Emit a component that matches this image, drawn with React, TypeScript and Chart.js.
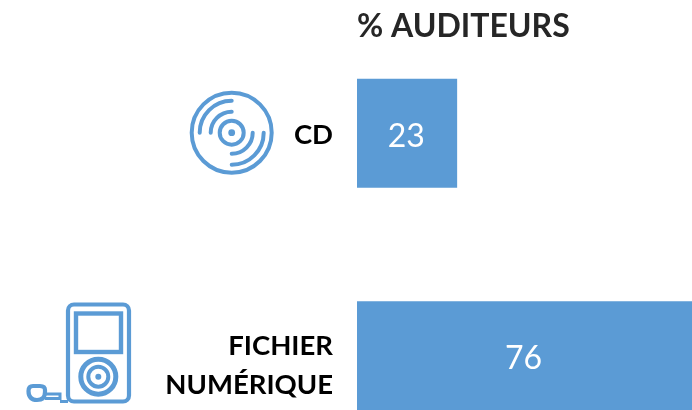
import React, { useEffect, useRef } from "react";
import { Chart, registerables } from "chart.js";

Chart.register(...registerables);

const categories = [["CD"], ["FICHIER", "NUMÉRIQUE"]];
const values = [23, 76];
const chartTitle = "% AUDITEURS";
const blue = "#5B9BD5";
const fontFamily = "Lato, 'Open Sans', sans-serif";

const valueLabels = {
  id: "valueLabels",
  afterDatasetsDraw(chart: any) {
    const { ctx } = chart;
    const meta = chart.getDatasetMeta(0);
    ctx.save();
    ctx.fillStyle = "#FFFFFF";
    ctx.font = `400 32px ${fontFamily}`;
    ctx.textAlign = "center";
    ctx.textBaseline = "middle";
    meta.data.forEach((bar: any, i: number) => {
      const centerX = (bar.base + Math.min(bar.x, chart.chartArea.right)) / 2;
      ctx.fillText(String(values[i]), centerX, bar.y + 3);
    });
    ctx.restore();
  },
};

const lowerLastLabel = {
  id: "lowerLastLabel",
  beforeDraw(chart: any) {
    const items = chart.scales.y.getLabelItems();
    const last = items[items.length - 1];
    if (!last.shifted) {
      last.options.translation[1] += 8;
      last.shifted = true;
    }
  },
};

function DiscIcon() {
  return (
    <svg style={{ position: "absolute", left: 185, top: 86, pointerEvents: "none" }} width={94} height={94} viewBox="185 86 94 94" fill="none" stroke={blue} strokeWidth={4} strokeLinecap="round">
      <circle cx={231.7} cy={132.7} r={40} />
      <circle cx={231.7} cy={132.7} r={12} />
      <circle cx={231.7} cy={132.7} r={3.4} fill={blue} stroke="none" />
      <path d="M210.7 132.7 A21 21 0 0 1 231.7 111.7" />
      <path d="M199.7 132.7 A32 32 0 0 1 231.7 100.7" />
      <path d="M252.7 132.7 A21 21 0 0 1 231.7 153.7" />
      <path d="M263.7 132.7 A32 32 0 0 1 231.7 164.7" />
    </svg>
  );
}

function PlayerIcon() {
  return (
    <svg style={{ position: "absolute", left: 20, top: 296, pointerEvents: "none" }} width={118} height={112} viewBox="20 296 118 112" fill="none" stroke={blue} strokeWidth={4.2}>
      <rect x={68} y={304.5} width={61} height={97} rx={6} />
      <rect x={76} y={313.5} width={45} height={38.5} strokeWidth={4.4} />
      <circle cx={98.3} cy={376.7} r={17.5} strokeWidth={5} />
      <circle cx={98.3} cy={376.7} r={10} strokeWidth={4} />
      <circle cx={98.3} cy={376.7} r={3} fill={blue} stroke="none" />
      <path d="M33 386 H40 Q45 386 45 390 V392 Q45 400 37 400 Q28.5 400 28.5 391 Q28.5 386 33 386 Z" />
      <path d="M45 394 H60 V398.5 H45 M60 401.5 H68" strokeWidth={3} />
    </svg>
  );
}

export default function App() {
  const canvasRef = useRef<HTMLCanvasElement | null>(null);

  useEffect(() => {
    document.body.style.margin = "0";
    document.body.style.overflow = "hidden";
    const chart = new Chart(canvasRef.current as HTMLCanvasElement, {
      type: "bar",
      data: {
        labels: categories,
        datasets: [
          {
            data: values,
            backgroundColor: blue,
            borderWidth: 0,
            barPercentage: 1,
            categoryPercentage: 0.49,
          },
        ],
      },
      plugins: [valueLabels, lowerLastLabel],
      options: {
        indexAxis: "y",
        responsive: false,
        animation: false,
        layout: { padding: 0, autoPadding: false },
        plugins: {
          legend: { display: false },
          tooltip: { enabled: false },
          title: {
            display: true,
            text: chartTitle,
            align: "start",
            fullSize: false,
            color: "#262626",
            font: { family: fontFamily, size: 32, weight: "bold", lineHeight: 1 },
            padding: { top: 10.5, bottom: -20.5 },
          },
        },
        scales: {
          x: { display: false, min: 0.4, max: 76 },
          y: {
            type: "category",
            afterFit(scale: any) {
              scale.width = 357;
              scale.paddingTop = 0;
              scale.paddingBottom = 0;
            },
            border: { display: false },
            grid: { display: false, drawTicks: false },
            ticks: {
              color: "#000000",
              padding: 24,
              labelOffset: 2,
              font: { family: fontFamily, size: 27.5, weight: "bold", lineHeight: 1.42 },
            },
          },
        },
      },
    } as any);
    return () => chart.destroy();
  }, []);

  return (
    <div style={{ position: "fixed", left: 0, top: 0, width: 692, height: 410, overflow: "hidden", background: "#FFFFFF" }}>
      <canvas ref={canvasRef} width={692} height={467} style={{ display: "block" }} />
      <DiscIcon />
      <PlayerIcon />
    </div>
  );
}
